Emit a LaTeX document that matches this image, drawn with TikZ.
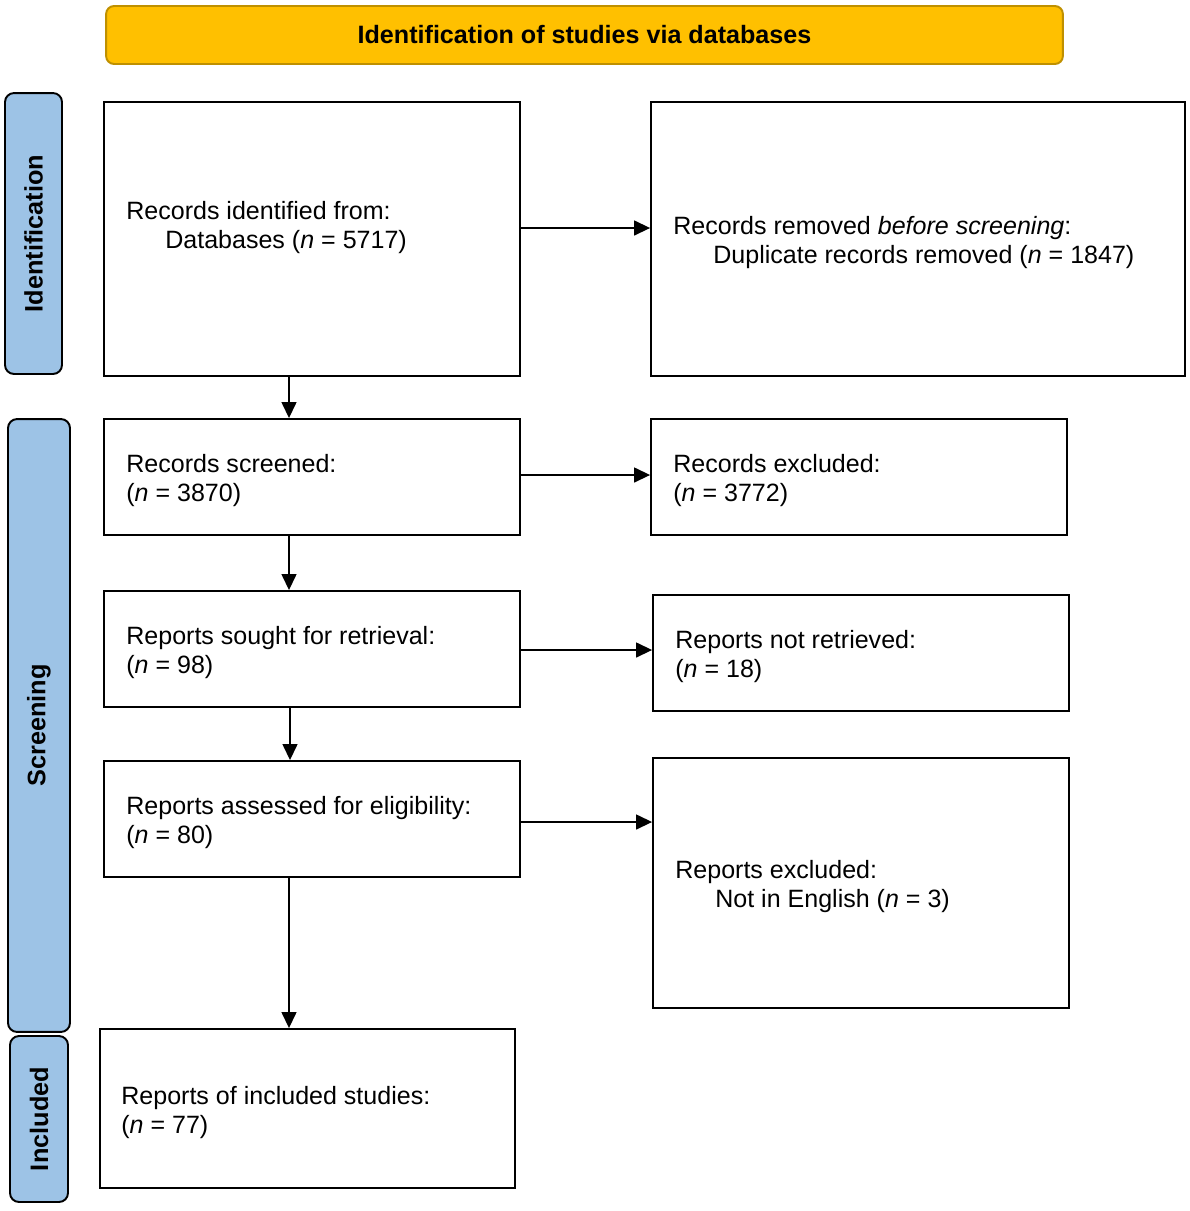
\documentclass[tikz,border=0pt]{standalone}
\usepackage{fontspec}
\setmainfont{Liberation Sans}
\usetikzlibrary{arrows.meta}
\definecolor{bannerfill}{HTML}{FFC000}
\definecolor{bannerline}{HTML}{BF9000}
\definecolor{stagefill}{HTML}{9DC3E6}
\begin{document}
\begin{tikzpicture}
    [x=0.02cm,y=-0.02cm,
     box/.style={draw,line width=1.1pt,inner sep=0pt},
     stage/.style={draw,fill=stagefill,line width=1.1pt,rounded corners=0.18cm,inner sep=0pt},
     stagetext/.style={rotate=90,font=\fontsize{14.4}{16}\selectfont\bfseries},
     txt/.style={anchor=base west,inner sep=0pt,align=left,font=\fontsize{14.25}{16.5}\selectfont},
     arr/.style={-{Triangle[length=0.32cm,width=0.3cm]},line width=0.8pt}]

    \useasboundingbox (0,0) rectangle (1190,1211);

    % banner:
    \node (banner) at (584.5,35) [draw=bannerline,fill=bannerfill,line width=1.1pt,rounded corners=0.16cm,
      minimum width=19.14cm,minimum height=1.16cm,font=\fontsize{14.3}{16}\selectfont\bfseries]
      {Identification of studies via databases};

    % stages on the left:
    \node (sid) at (33.5,233.5) [stage,minimum width=1.14cm,minimum height=5.62cm] {};
    \node (sscr) at (39,725.5) [stage,minimum width=1.24cm,minimum height=12.26cm] {};
    \node (sinc) at (39,1119) [stage,minimum width=1.16cm,minimum height=3.32cm] {};
    \node (lid) at (sid.center) [stagetext] {Identification};
    \node (lscr) at (sscr.center) [stagetext] {Screening};
    \node (linc) at (sinc.center) [stagetext] {Included};

    % left column:
    \node (b1) at (312,239) [box,minimum width=8.32cm,minimum height=5.48cm] {};
    \node (b3) at (312,477) [box,minimum width=8.32cm,minimum height=2.32cm] {};
    \node (b5) at (312,649) [box,minimum width=8.32cm,minimum height=2.32cm] {};
    \node (b7) at (312,819) [box,minimum width=8.32cm,minimum height=2.32cm] {};
    \node (b9) at (307.5,1108.5) [box,minimum width=8.30cm,minimum height=3.18cm] {};

    % right column:
    \node (b2) at (918,239) [box,minimum width=10.68cm,minimum height=5.48cm] {};
    \node (b4) at (859,477) [box,minimum width=8.32cm,minimum height=2.32cm] {};
    \node (b6) at (861,653) [box,minimum width=8.32cm,minimum height=2.32cm] {};
    \node (b8) at (861,883) [box,minimum width=8.32cm,minimum height=5.0cm] {};

    % texts (base = last line):
    \node (t1) at (126,248) [txt] {Records identified from:\\\hspace*{0.78cm}Databases (\textit{n} = 5717)};
    \node (t2) at (673,263) [txt] {Records removed \textit{before screening}:\\\hspace*{0.8cm}Duplicate records removed (\textit{n} = 1847)};
    \node (t3) at (126,501) [txt] {Records screened:\\(\textit{n} = 3870)};
    \node (t4) at (673,501) [txt] {Records excluded:\\(\textit{n} = 3772)};
    \node (t5) at (126,673) [txt] {Reports sought for retrieval:\\(\textit{n} = 98)};
    \node (t6) at (675,677) [txt] {Reports not retrieved:\\(\textit{n} = 18)};
    \node (t7) at (126,843) [txt] {Reports assessed for eligibility:\\(\textit{n} = 80)};
    \node (t8) at (675,907) [txt] {Reports excluded:\\\hspace*{0.8cm}Not in English (\textit{n} = 3)};
    \node (t9) at (121,1133) [txt] {Reports of included studies:\\(\textit{n} = 77)};

    % connect boxes:
    \draw [arr] (b1.east |- 0,228) -- (b2.west |- 0,228);
    \draw [arr] (b1.south -| 289,0) -- (b3.north -| 289,0);
    \draw [arr] (b3.east |- 0,475) -- (b4.west |- 0,475);
    \draw [arr] (b3.south -| 289,0) -- (b5.north -| 289,0);
    \draw [arr] (b5.east |- 0,650) -- (b6.west |- 0,650);
    \draw [arr] (b5.south -| 290,0) -- (b7.north -| 290,0);
    \draw [arr] (b7.east |- 0,822) -- (b8.west |- 0,822);
    \draw [arr] (b7.south -| 289,0) -- (b9.north -| 289,0);

  \end{tikzpicture}
\end{document}
